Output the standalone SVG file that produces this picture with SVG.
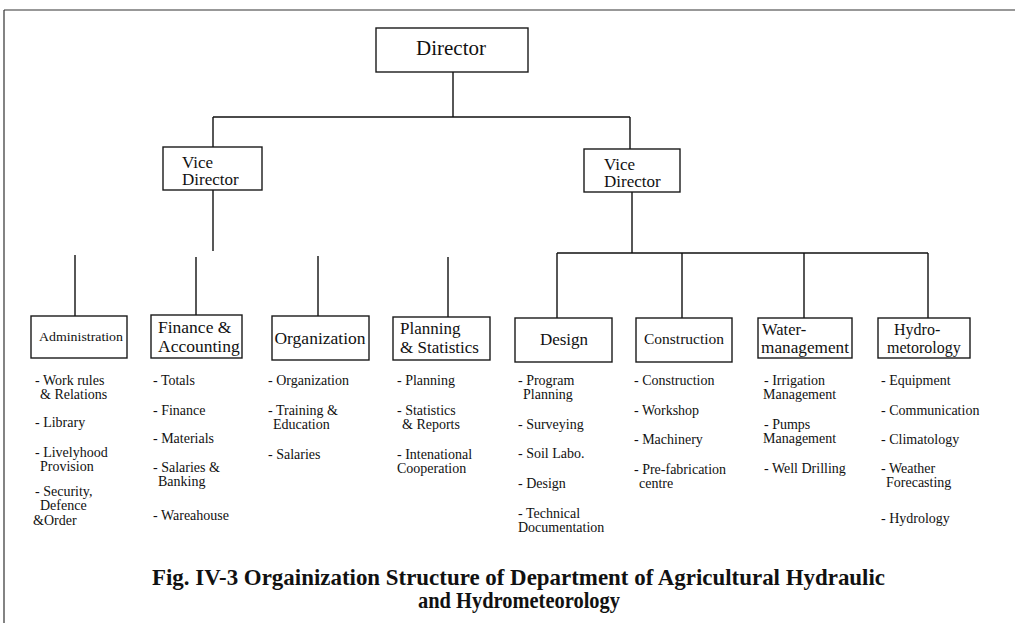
<svg xmlns="http://www.w3.org/2000/svg" width="1015" height="623" viewBox="0 0 1015 623">
  <style>
    .box { fill: #ffffff; stroke: #1a1a1a; stroke-width: 1.4; }
    .conn { stroke: #111111; stroke-width: 1.4; fill: none; }
    .frame { stroke: #333333; stroke-width: 1.2; fill: none; }
    .lbl { font-family: "Liberation Serif", "Times New Roman", serif; fill: #111111; }
    .item { font-family: "Liberation Serif", "Times New Roman", serif; font-size: 14px; fill: #111111; }
    .title { font-family: "Liberation Serif", "Times New Roman", serif; font-weight: bold; font-size: 23px; fill: #111111; }
  </style>
  <rect width="1015" height="623" fill="#ffffff"/>

  <!-- page frame -->
  <path class="frame" d="M4,10 H1015 M4,10 V623"/>

  <!-- connectors -->
  <g id="connectors">
    <path class="conn" d="M453,72 V117 M213,117 H630 M213,117 V147 M630,117 V149"/>
    <path class="conn" d="M213,190 V251"/>
    <path class="conn" d="M75,255 V316 M196,257 V315 M318,256 V316 M448,257 V317"/>
    <path class="conn" d="M632,192 V253 M557,253 H928 M557,253 V318 M682,253 V318 M804,253 V318 M928,253 V318"/>
  </g>

  <!-- top level -->
  <g id="director">
    <rect class="box" x="376" y="28" width="152" height="44"/>
    <text class="lbl" x="451" y="55" font-size="21" text-anchor="middle">Director</text>
  </g>

  <g id="vice-director-left">
    <rect class="box" x="163" y="147" width="99" height="43"/>
    <text class="lbl" x="182" y="168" font-size="17">Vice</text>
    <text class="lbl" x="182" y="185" font-size="17">Director</text>
  </g>

  <g id="vice-director-right">
    <rect class="box" x="584" y="149" width="96" height="43"/>
    <text class="lbl" x="604" y="170" font-size="17">Vice</text>
    <text class="lbl" x="604" y="187" font-size="17">Director</text>
  </g>

  <!-- departments -->
  <g id="administration">
    <rect class="box" x="31" y="316" width="96" height="42"/>
    <text class="lbl" x="39" y="341" font-size="12" textLength="84" lengthAdjust="spacingAndGlyphs">Administration</text>
    <text class="item" x="35" y="385">- Work rules</text>
    <text class="item" x="40" y="399">&amp; Relations</text>
    <text class="item" x="35" y="427">- Library</text>
    <text class="item" x="35" y="457">- Livelyhood</text>
    <text class="item" x="40" y="471">Provision</text>
    <text class="item" x="35" y="496">- Security,</text>
    <text class="item" x="40" y="510">Defence</text>
    <text class="item" x="33" y="525">&amp;Order</text>
  </g>

  <g id="finance-accounting">
    <rect class="box" x="151" y="315" width="91" height="43"/>
    <text class="lbl" x="158" y="333" font-size="17.5">Finance &amp;</text>
    <text class="lbl" x="158" y="352" font-size="17.5">Accounting</text>
    <text class="item" x="153" y="385">- Totals</text>
    <text class="item" x="153" y="415">- Finance</text>
    <text class="item" x="153" y="443">- Materials</text>
    <text class="item" x="153" y="472">- Salaries &amp;</text>
    <text class="item" x="158" y="486">Banking</text>
    <text class="item" x="153" y="520">- Wareahouse</text>
  </g>

  <g id="organization">
    <rect class="box" x="272" y="316" width="97" height="44"/>
    <text class="lbl" x="320" y="344" font-size="17.5" text-anchor="middle">Organization</text>
    <text class="item" x="268" y="385">- Organization</text>
    <text class="item" x="268" y="415">- Training &amp;</text>
    <text class="item" x="273" y="429">Education</text>
    <text class="item" x="268" y="459">- Salaries</text>
  </g>

  <g id="planning-statistics">
    <rect class="box" x="393" y="317" width="97" height="43"/>
    <text class="lbl" x="400" y="334" font-size="17">Planning</text>
    <text class="lbl" x="400" y="353" font-size="17">&amp; Statistics</text>
    <text class="item" x="397" y="385">- Planning</text>
    <text class="item" x="397" y="415">- Statistics</text>
    <text class="item" x="402" y="429">&amp; Reports</text>
    <text class="item" x="397" y="459">- Intenational</text>
    <text class="item" x="397" y="473">Cooperation</text>
  </g>

  <g id="design">
    <rect class="box" x="515" y="318" width="97" height="44"/>
    <text class="lbl" x="564" y="345" font-size="17" text-anchor="middle">Design</text>
    <text class="item" x="518" y="385">- Program</text>
    <text class="item" x="523" y="399">Planning</text>
    <text class="item" x="518" y="429">- Surveying</text>
    <text class="item" x="518" y="458">- Soil Labo.</text>
    <text class="item" x="518" y="488">- Design</text>
    <text class="item" x="518" y="518">- Technical</text>
    <text class="item" x="518" y="532">Documentation</text>
  </g>

  <g id="construction">
    <rect class="box" x="636" y="318" width="96" height="44"/>
    <text class="lbl" x="684" y="344" font-size="15.5" text-anchor="middle">Construction</text>
    <text class="item" x="634" y="385">- Construction</text>
    <text class="item" x="634" y="415">- Workshop</text>
    <text class="item" x="634" y="444">- Machinery</text>
    <text class="item" x="634" y="474">- Pre-fabrication</text>
    <text class="item" x="639" y="488">centre</text>
  </g>

  <g id="water-management">
    <rect class="box" x="758" y="318" width="94" height="40"/>
    <text class="lbl" x="762" y="335" font-size="16.5">Water-</text>
    <text class="lbl" x="761" y="353" font-size="16.5" textLength="88" lengthAdjust="spacingAndGlyphs">management</text>
    <text class="item" x="764" y="385">- Irrigation</text>
    <text class="item" x="763" y="399">Management</text>
    <text class="item" x="764" y="429">- Pumps</text>
    <text class="item" x="763" y="443">Management</text>
    <text class="item" x="764" y="473">- Well Drilling</text>
  </g>

  <g id="hydro-metorology">
    <rect class="box" x="878" y="318" width="92" height="40"/>
    <text class="lbl" x="894" y="335" font-size="16">Hydro-</text>
    <text class="lbl" x="887" y="353" font-size="16">metorology</text>
    <text class="item" x="881" y="385">- Equipment</text>
    <text class="item" x="881" y="415">- Communication</text>
    <text class="item" x="881" y="444">- Climatology</text>
    <text class="item" x="881" y="473">- Weather</text>
    <text class="item" x="886" y="487">Forecasting</text>
    <text class="item" x="881" y="523">- Hydrology</text>
  </g>

  <!-- caption -->
  <text class="title" x="152" y="585" textLength="733" lengthAdjust="spacingAndGlyphs">Fig. IV-3  Orgainization Structure of Department of Agricultural Hydraulic</text>
  <text class="title" x="418" y="608" textLength="202" lengthAdjust="spacingAndGlyphs">and Hydrometeorology</text>
</svg>
